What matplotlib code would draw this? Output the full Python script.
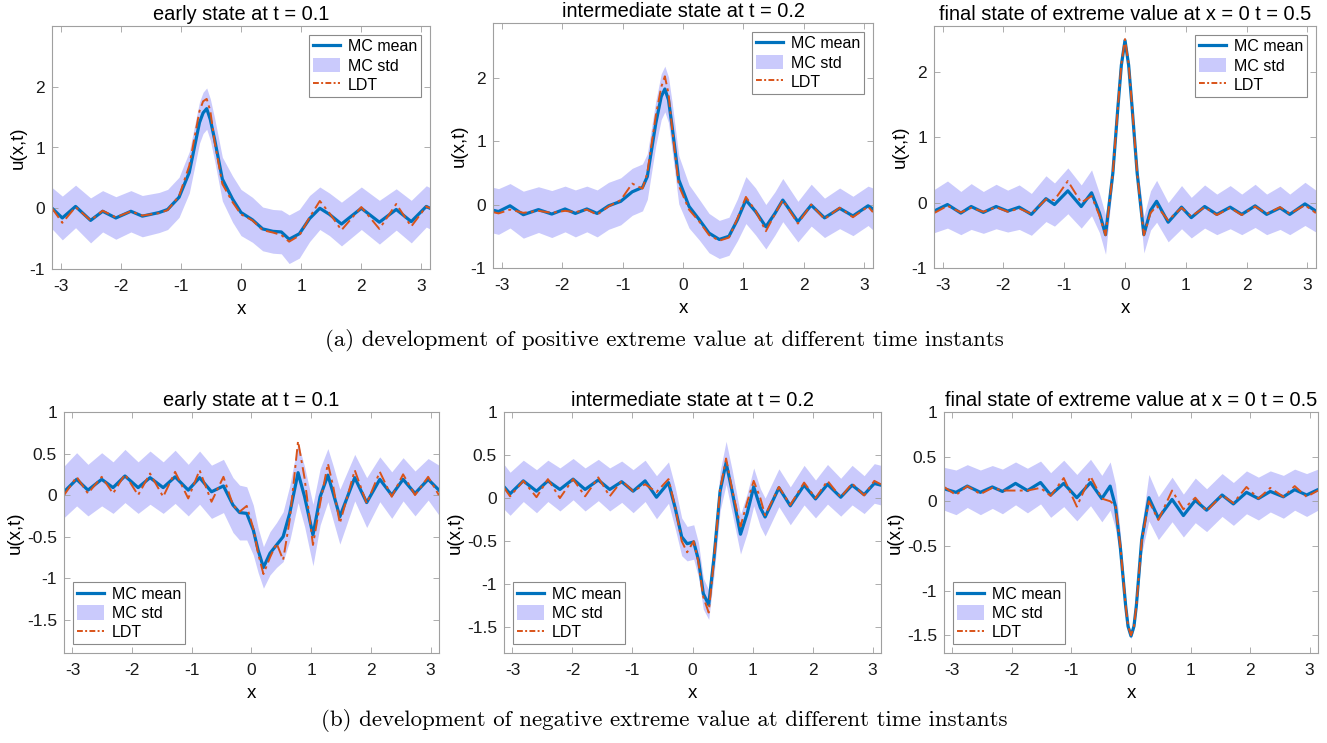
import numpy as np
import matplotlib.pyplot as plt
from matplotlib.lines import Line2D
from matplotlib.patches import Patch

plt.rcParams['font.family'] = ['Liberation Sans', 'DejaVu Sans']
plt.rcParams['axes.unicode_minus'] = False

# (a) positive extreme value
a1_x = [-3.14, -2.97, -2.75, -2.5, -2.3, -2.08, -1.83, -1.64, -1.36, -1.22, -1.03, -0.86, -0.69, -0.63, -0.57, -0.51,
        -0.44, -0.31, -0.14, 0.0, 0.19, 0.36, 0.53, 0.67, 0.8, 0.97, 1.14, 1.31, 1.47, 1.67, 2.0, 2.3, 2.58, 2.83, 3.08, 3.14]
a1_mean = [0.0, -0.16, 0.03, -0.2, -0.05, -0.16, -0.05, -0.13, -0.07, -0.02, 0.18, 0.59, 1.41, 1.57, 1.64, 1.46,
           1.14, 0.48, 0.15, -0.07, -0.19, -0.34, -0.38, -0.39, -0.51, -0.42, -0.17, 0.0, -0.1, -0.26, 0.0, -0.23, -0.02, -0.22, 0.03, 0.0]
a1_ldt = [0.0, -0.24, 0.02, -0.2, -0.04, -0.15, -0.05, -0.12, -0.08, -0.03, 0.2, 0.7, 1.6, 1.76, 1.8, 1.6,
          1.1, 0.4, 0.1, -0.1, -0.2, -0.36, -0.4, -0.44, -0.55, -0.45, -0.15, 0.12, -0.08, -0.36, 0.02, -0.34, 0.07, -0.3, 0.03, 0.0]
a1_std = [0.34, 0.36, 0.35, 0.37, 0.34, 0.35, 0.34, 0.34, 0.33, 0.33, 0.33, 0.34, 0.34, 0.34, 0.34, 0.34,
          0.35, 0.36, 0.38, 0.38, 0.37, 0.36, 0.36, 0.36, 0.4, 0.4, 0.38, 0.35, 0.35, 0.36, 0.35, 0.36, 0.34, 0.35, 0.34, 0.34]

a2_x = [-3.14, -3.05, -2.86, -2.64, -2.39, -2.17, -1.95, -1.78, -1.59, -1.42, -1.23, -1.03, -0.84, -0.67, -0.59, -0.45,
        -0.36, -0.3, -0.24, -0.18, -0.07, 0.1, 0.27, 0.43, 0.6, 0.76, 0.9, 1.04, 1.2, 1.37, 1.52, 1.65, 1.9, 2.12, 2.34,
        2.59, 2.81, 3.06, 3.14]
a2_mean = [-0.09, -0.11, -0.02, -0.16, -0.08, -0.15, -0.07, -0.14, -0.07, -0.14, -0.02, 0.05, 0.2, 0.27, 0.44, 1.28,
           1.7, 1.82, 1.65, 1.23, 0.39, -0.03, -0.24, -0.45, -0.55, -0.5, -0.24, 0.07, -0.11, -0.35, -0.14, 0.07, -0.27,
           -0.01, -0.21, -0.06, -0.18, -0.02, -0.07]
a2_ldt = [-0.12, -0.14, -0.08, -0.13, -0.1, -0.13, -0.1, -0.12, -0.08, -0.16, -0.03, 0.07, 0.33, 0.25, 0.5, 1.4,
          1.85, 2.02, 1.75, 1.2, 0.3, -0.08, -0.27, -0.48, -0.57, -0.52, -0.22, 0.12, -0.1, -0.42, -0.15, 0.07, -0.3,
          0.0, -0.23, -0.05, -0.2, -0.03, -0.12]
a2_std = [0.36, 0.36, 0.35, 0.37, 0.36, 0.37, 0.36, 0.37, 0.36, 0.37, 0.37, 0.37, 0.37, 0.37, 0.36, 0.35,
          0.36, 0.36, 0.36, 0.38, 0.38, 0.34, 0.32, 0.31, 0.3, 0.3, 0.33, 0.37, 0.37, 0.35, 0.34, 0.34, 0.32,
          0.33, 0.31, 0.32, 0.31, 0.31, 0.33]

a3_x = [-3.14, -2.92, -2.7, -2.53, -2.33, -2.12, -1.93, -1.74, -1.54, -1.3, -1.16, -0.94, -0.72, -0.55, -0.42,
        -0.32, -0.2, -0.12, -0.06, 0.0, 0.06, 0.12, 0.2, 0.31, 0.42, 0.52, 0.71, 0.93, 1.09, 1.31, 1.51, 1.73, 1.92,
        2.14, 2.33, 2.55, 2.71, 2.96, 3.14]
a3_mean = [-0.13, -0.03, -0.16, -0.06, -0.15, -0.06, -0.13, -0.07, -0.18, 0.06, -0.03, 0.18, -0.06, 0.15, -0.16,
           -0.49, 0.45, 1.42, 2.1, 2.48, 2.1, 1.42, 0.45, -0.49, -0.12, 0.02, -0.3, -0.07, -0.23, -0.06, -0.18, -0.07,
           -0.18, -0.05, -0.18, -0.08, -0.18, -0.02, -0.13]
a3_ldt = [-0.16, -0.05, -0.15, -0.08, -0.14, -0.07, -0.14, -0.09, -0.17, 0.05, 0.04, 0.33, 0.0, 0.1, -0.2,
          -0.5, 0.45, 1.42, 2.12, 2.5, 2.12, 1.42, 0.45, -0.5, -0.16, -0.05, -0.27, -0.08, -0.21, -0.07, -0.19, -0.08,
          -0.19, -0.06, -0.17, -0.07, -0.17, -0.04, -0.16]
a3_std = [0.33, 0.36, 0.33, 0.35, 0.32, 0.34, 0.32, 0.34, 0.32, 0.35, 0.33, 0.35, 0.33, 0.35, 0.3,
          0.3, 0.12, 0.06, 0.05, 0.05, 0.05, 0.06, 0.12, 0.28, 0.3, 0.32, 0.3, 0.33, 0.31, 0.33, 0.31, 0.33,
          0.31, 0.33, 0.31, 0.33, 0.31, 0.33, 0.32]

# (b) negative extreme value
b1_x = [-3.14, -2.93, -2.74, -2.51, -2.32, -2.12, -1.9, -1.7, -1.48, -1.28, -1.06, -0.87, -0.67, -0.47, -0.31,
        -0.2, -0.08, 0.03, 0.11, 0.2, 0.31, 0.42, 0.53, 0.64, 0.78, 0.89, 1.03, 1.15, 1.28, 1.37, 1.48, 1.73, 1.93,
        2.15, 2.35, 2.54, 2.74, 2.96, 3.14]
b1_mean = [0.04, 0.19, 0.06, 0.19, 0.09, 0.23, 0.09, 0.21, 0.09, 0.22, 0.06, 0.21, 0.04, 0.11, -0.12,
           -0.21, -0.22, -0.42, -0.66, -0.87, -0.7, -0.6, -0.5, -0.22, 0.27, -0.02, -0.48, -0.02, 0.24, 0.02, -0.26,
           0.21, -0.09, 0.19, 0.0, 0.19, 0.02, 0.19, 0.06]
b1_ldt = [0.0, 0.22, 0.02, 0.22, 0.02, 0.25, 0.0, 0.26, -0.02, 0.28, -0.04, 0.3, -0.08, 0.22, -0.12,
          -0.2, -0.13, -0.4, -0.7, -0.95, -0.75, -0.58, -0.78, -0.3, 0.65, 0.2, -0.6, -0.1, 0.38, 0.1, -0.34,
          0.3, -0.1, 0.28, -0.02, 0.25, 0.0, 0.22, 0.0]
b1_std = [0.31, 0.32, 0.31, 0.32, 0.31, 0.32, 0.31, 0.32, 0.31, 0.32, 0.31, 0.32, 0.32, 0.32, 0.33,
          0.33, 0.32, 0.3, 0.27, 0.25, 0.26, 0.27, 0.3, 0.33, 0.36, 0.36, 0.37, 0.34, 0.32, 0.33, 0.33,
          0.28, 0.3, 0.27, 0.28, 0.26, 0.27, 0.25, 0.3]

b2_x = [-3.14, -3.04, -2.82, -2.6, -2.41, -2.21, -1.99, -1.79, -1.57, -1.38, -1.18, -0.99, -0.79, -0.6, -0.4,
        -0.29, -0.18, -0.09, 0.02, 0.1, 0.18, 0.27, 0.36, 0.46, 0.56, 0.66, 0.8, 0.91, 1.02, 1.13, 1.21, 1.44, 1.63,
        1.86, 2.05, 2.25, 2.47, 2.66, 2.86, 3.03, 3.14]
b2_mean = [0.13, 0.05, 0.2, 0.08, 0.2, 0.1, 0.22, 0.1, 0.21, 0.1, 0.19, 0.08, 0.2, 0.01, 0.18,
           -0.11, -0.45, -0.53, -0.51, -0.72, -1.11, -1.24, -0.68, 0.08, 0.41, 0.08, -0.42, -0.18, 0.13, -0.11, -0.22,
           0.12, -0.09, 0.15, -0.01, 0.16, 0.01, 0.15, 0.04, 0.17, 0.15]
b2_ldt = [0.12, 0.02, 0.2, 0.01, 0.22, 0.0, 0.22, 0.02, 0.24, 0.02, 0.2, 0.08, 0.16, 0.07, 0.22,
          -0.1, -0.5, -0.63, -0.5, -0.75, -1.15, -1.33, -0.7, 0.1, 0.46, 0.1, -0.33, -0.05, 0.2, 0.0, -0.2,
          0.13, -0.08, 0.18, 0.0, 0.2, 0.01, 0.17, 0.03, 0.2, 0.16]
b2_std = [0.26, 0.25, 0.24, 0.25, 0.24, 0.25, 0.24, 0.25, 0.24, 0.25, 0.24, 0.25, 0.24, 0.25, 0.24,
          0.24, 0.22, 0.2, 0.2, 0.2, 0.18, 0.17, 0.2, 0.23, 0.25, 0.25, 0.23, 0.23, 0.22, 0.22, 0.22,
          0.22, 0.22, 0.23, 0.22, 0.23, 0.22, 0.23, 0.22, 0.23, 0.23]

b3_x = [-3.14, -2.94, -2.75, -2.53, -2.33, -2.16, -1.94, -1.74, -1.52, -1.35, -1.13, -0.91, -0.68, -0.49, -0.35,
        -0.26, -0.18, -0.09, -0.05, 0.0, 0.05, 0.09, 0.18, 0.3, 0.46, 0.69, 0.88, 1.08, 1.27, 1.53, 1.72, 1.94,
        2.14, 2.34, 2.56, 2.75, 2.95, 3.14]
b3_mean = [0.14, 0.1, 0.17, 0.1, 0.16, 0.11, 0.2, 0.12, 0.21, 0.07, 0.2, 0.04, 0.21, 0.03, 0.17,
           -0.06, -0.51, -1.17, -1.4, -1.51, -1.4, -1.17, -0.43, 0.04, -0.19, 0.02, -0.16, 0.01, -0.1, 0.07, -0.03, 0.1,
           0.03, 0.11, 0.05, 0.13, 0.07, 0.13]
b3_ldt = [0.16, 0.07, 0.17, 0.08, 0.15, 0.12, 0.12, 0.12, 0.15, 0.06, 0.26, -0.06, 0.28, 0.03, 0.0,
          -0.05, -0.5, -1.17, -1.4, -1.5, -1.4, -1.17, -0.45, 0.0, -0.21, 0.12, -0.09, 0.04, -0.11, 0.07, -0.02, 0.16,
          0.03, 0.15, 0.05, 0.17, 0.05, 0.12]
b3_std = [0.24, 0.25, 0.24, 0.25, 0.24, 0.25, 0.24, 0.25, 0.24, 0.25, 0.26, 0.26, 0.26, 0.26, 0.27,
          0.25, 0.15, 0.06, 0.04, 0.03, 0.04, 0.06, 0.15, 0.26, 0.24, 0.25, 0.24, 0.25, 0.24, 0.24, 0.24, 0.24,
          0.24, 0.23, 0.24, 0.23, 0.24, 0.23]

titles = ['early state at t = 0.1', 'intermediate state at t = 0.2',
          'final state of extreme value at x = 0 t = 0.5']
captions = ['(a) development of positive extreme value at different time instants',
            '(b) development of negative extreme value at different time instants']

BLUE = '#0072BD'
ORANGE = '#D95319'
BAND = '#cacafc'
FRAME = '#a0a0a0'

fig = plt.figure(figsize=(13.27, 7.43), dpi=100)

# axes boxes in pixels: left, top, right, bottom
boxes = [
    (52, 26, 430, 269), (493, 23, 873, 268), (934, 26, 1316, 268),
    (64, 412, 439, 653), (504, 412, 881, 653), (944, 412, 1318, 653),
]
panels = [
    (a1_x, a1_mean, a1_std, a1_ldt, (-1, 3.0)),
    (a2_x, a2_mean, a2_std, a2_ldt, (-1, 2.86)),
    (a3_x, a3_mean, a3_std, a3_ldt, (-1, 2.7)),
    (b1_x, b1_mean, b1_std, b1_ldt, (-1.9, 1)),
    (b2_x, b2_mean, b2_std, b2_ldt, (-1.8, 1)),
    (b3_x, b3_mean, b3_std, b3_ldt, (-1.7, 1)),
]

W, H = 1327, 743
for i, ((l, t, r, b), (x, m, s, ldt, ylim)) in enumerate(zip(boxes, panels)):
    ax = fig.add_axes([l / W, 1 - b / H, (r - l) / W, (b - t) / H])
    x = np.array(x)
    m = np.array(m)
    s = np.array(s)
    ax.fill_between(x, m - s, m + s, color=BAND, lw=0)
    ax.plot(x, m, color=BLUE, lw=2.3, solid_joinstyle='round')
    ax.plot(x, ldt, color=ORANGE, lw=1.4, ls=(0, (6, 2.2, 1.5, 2.2)))
    ax.set_xlim(-np.pi, np.pi)
    ax.set_ylim(*ylim)
    ax.set_xticks([-3, -2, -1, 0, 1, 2, 3])
    if i < 3:
        ax.set_yticks([-1, 0, 1, 2])
    else:
        ax.set_yticks([-1.5, -1, -0.5, 0, 0.5, 1])
    ax.yaxis.set_major_formatter(plt.FormatStrFormatter('%g'))
    ax.tick_params(direction='in', top=True, right=True, length=4, width=0.6,
                   color=FRAME, labelsize=12.5, labelcolor='#1a1a1a')
    ax.tick_params(axis='x', pad=7)
    ax.tick_params(axis='y', pad=5)
    for sp in ax.spines.values():
        sp.set_color(FRAME)
        sp.set_linewidth(0.8)
    ax.set_title(titles[i % 3], fontsize=14.4, pad=4)
    ax.set_xlabel('x', fontsize=13.5, labelpad=5)
    ax.set_ylabel('u(x,t)', fontsize=13.5, labelpad=2)

    handles = [Line2D([], [], color=BLUE, lw=2.3),
               Patch(facecolor=BAND, edgecolor='none'),
               Line2D([], [], color=ORANGE, lw=1.4, ls=(0, (3, 1.2, 1, 1.2)))]
    leg = ax.legend(handles, ['MC mean', 'MC std', 'LDT'],
                    loc='upper right' if i < 3 else 'lower left',
                    fontsize=11.5, fancybox=False, framealpha=1, edgecolor='#8a8a8a',
                    handlelength=1.7, handleheight=1.0, handletextpad=0.5, labelspacing=0.22,
                    borderpad=0.25, borderaxespad=0.55)
    leg.get_frame().set_linewidth(0.8)

fig.text(664 / W, 1 - 341 / H, captions[0], ha='center', va='center',
         family='cmr10', fontsize=16.5)
fig.text(664 / W, 1 - 721 / H, captions[1], ha='center', va='center',
         family='cmr10', fontsize=16.5)

fig.savefig('out.png', dpi=100)
